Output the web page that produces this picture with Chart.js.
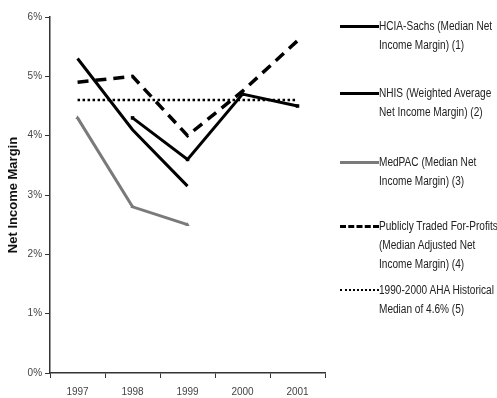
<!DOCTYPE html>
<html>
<head>
<meta charset="utf-8">
<script src="https://cdn.jsdelivr.net/npm/chart.js@4/dist/chart.umd.min.js"></script>
<style>
  body { margin: 0; background: #fff; }
  #wrap { position: relative; width: 497px; height: 398px; }
  #legend { position: absolute; left: 340px; top: 0; width: 160px;
            font-family: "Liberation Sans", Arial, sans-serif;
            font-size: 12px; color: #222; }
  .item { position: absolute; left: 0; display: flex; line-height: 19px; }
  .swatch { width: 39px; height: 19px; position: relative; flex: none; }
  .swatch span { position: absolute; left: 0; right: 0; top: 8px; }
  .txt { white-space: nowrap; transform: scaleX(0.84); transform-origin: left top; }
</style>
</head>
<body>
<div id="wrap">
  <canvas id="chart" width="497" height="398"></canvas>
  <div id="legend"></div>
</div>
<script>
let years = ['1997', '1998', '1999', '2000', '2001'];
let hciaSachs = [5.3, 4.1, 3.15, null, null];
let nhis = [null, 4.3, 3.6, 4.7, 4.5];
let medpac = [4.3, 2.8, 2.5, null, null];
let forProfits = [4.9, 5.0, 4.0, 4.75, 5.6];
let ahaMedian = [4.6, 4.6, 4.6, 4.6, 4.6];
let yTicks = [0, 1, 2, 3, 4, 5, 6];

let seriesNames = [
    'HCIA-Sachs (Median Net Income Margin) (1)',
    'NHIS (Weighted Average Net Income Margin) (2)',
    'MedPAC (Median Net Income Margin) (3)',
    'Publicly Traded For-Profits (Median Adjusted Net Income Margin) (4)',
    '1990-2000 AHA Historical Median of 4.6% (5)'
];
// how the legend text wraps
let legendLines = [
    ['HCIA-Sachs (Median Net', 'Income Margin) (1)'],
    ['NHIS (Weighted Average', 'Net Income Margin) (2)'],
    ['MedPAC (Median Net', 'Income Margin) (3)'],
    ['Publicly Traded For-Profits', '(Median Adjusted Net', 'Income Margin) (4)'],
    ['1990-2000 AHA Historical', 'Median of 4.6% (5)']
];

let tickFont = { family: '"Liberation Sans", Arial, sans-serif', size: 10 };

let ctx = document.getElementById('chart').getContext('2d');
let chart = new Chart(ctx, {
    type: 'line',
    data: {
        labels: years,
        datasets: [
            { label: seriesNames[0], data: hciaSachs, borderColor: '#000', borderWidth: 3, pointRadius: 0 },
            { label: seriesNames[1], data: nhis, borderColor: '#000', borderWidth: 3,
              pointStyle: 'rect', pointRadius: 2.5, backgroundColor: '#000', pointBorderWidth: 0 },
            { label: seriesNames[2], data: medpac, borderColor: '#7a7a7a', borderWidth: 3,
              pointStyle: 'triangle', pointRadius: 2.5, backgroundColor: '#7a7a7a', pointBorderWidth: 0 },
            { label: seriesNames[3], data: forProfits, borderColor: '#000', borderWidth: 3.5,
              borderDash: [11, 7], pointRadius: 0 },
            { label: seriesNames[4], data: ahaMedian, borderColor: '#000', borderWidth: 2.5,
              borderDash: [2.5, 2.5], pointRadius: 0 }
        ]
    },
    options: {
        responsive: false,
        animation: false,
        spanGaps: false,
        layout: { padding: { top: 17, right: 172, bottom: -8, left: 6 } },
        plugins: { legend: { display: false }, tooltip: { enabled: false } },
        scales: {
            x: {
                offset: true,
                grid: { drawOnChartArea: false, offset: true, tickLength: 5, color: '#333' },
                border: { color: '#333', width: 1.5 },
                ticks: { color: '#444', font: tickFont, padding: 8 }
            },
            y: {
                min: 0,
                max: 6,
                afterBuildTicks: function(axis) {
                    axis.ticks = yTicks.map(function(v) { return { value: v }; });
                },
                grid: { drawOnChartArea: false, tickLength: 5, color: '#333' },
                border: { color: '#333', width: 1.5 },
                ticks: {
                    color: '#444', font: tickFont, padding: 3,
                    callback: function(v) { return v + '%'; }
                },
                title: {
                    display: true, text: 'Net Income Margin', color: '#111',
                    font: { family: '"Liberation Sans", Arial, sans-serif', size: 13, weight: 'bold' },
                    padding: { top: 0, bottom: 3 }
                }
            }
        }
    }
});

// legend drawn as html beside the plot
let legendTops = [17, 84, 153, 217, 281];
let swatchStyles = [
    'border-top: 3px solid #000;',
    'border-top: 3px solid #000;',
    'border-top: 3px solid #7a7a7a;',
    'border-top: 3.5px dashed #000;',
    'border-top: 2.5px dotted #000;'
];
let legendBox = document.getElementById('legend');
legendLines.forEach(function(lines, i) {
    let item = document.createElement('div');
    item.className = 'item';
    item.style.top = legendTops[i] + 'px';
    item.innerHTML = '<div class="swatch"><span style="' + swatchStyles[i] + '"></span></div>' +
        '<div class="txt">' + lines.join('<br>') + '</div>';
    legendBox.appendChild(item);
});
</script>
</body>
</html>
